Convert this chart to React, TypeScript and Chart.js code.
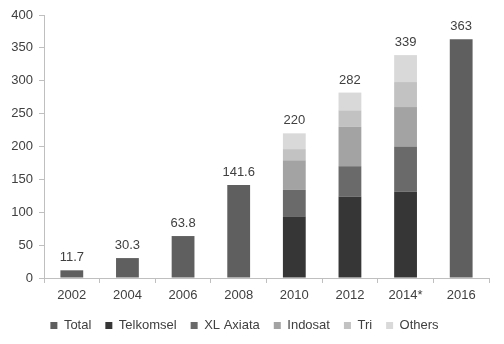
import React, { useEffect, useRef } from "react";
import { Chart, registerables } from "chart.js";

Chart.register(...registerables);

const categories = ["2002", "2004", "2006", "2008", "2010", "2012", "2014*", "2016"];
const totalValues = [11.7, 30.3, 63.8, 141.6, null, null, null, 363];
const telkomselValues = [null, null, null, null, 93, 124, 131, null];
const xlValues = [null, null, null, null, 41, 46, 69, null];
const indosatValues = [null, null, null, null, 45, 60, 60, null];
const triValues = [null, null, null, null, 17, 25, 38, null];
const othersValues = [null, null, null, null, 24, 27, 41, null];
const topLabels = ["11.7", "30.3", "63.8", "141.6", "220", "282", "339", "363"];
const yTicks = [0, 50, 100, 150, 200, 250, 300, 350, 400];

const FONT = "'Liberation Sans', Arial, sans-serif";
const TEXT = "#404040";
const AXIS = "#bfbfbf";

const topLabelPlugin = {
  id: "topLabels",
  afterDatasetsDraw(chart: any) {
    const ctx = chart.ctx;
    const yScale = chart.scales.y;
    ctx.save();
    ctx.font = `13px ${FONT}`;
    ctx.fillStyle = TEXT;
    ctx.textAlign = "center";
    ctx.textBaseline = "bottom";
    categories.forEach((_, i) => {
      let sum = 0;
      let x: number | null = null;
      chart.data.datasets.forEach((ds: any, di: number) => {
        const v = ds.data[i];
        if (v != null) {
          sum += v;
          const el = chart.getDatasetMeta(di).data[i];
          if (el) x = el.x;
        }
      });
      if (x != null) {
        const y = yScale.getPixelForValue(sum);
        ctx.fillText(topLabels[i], x, y - 6);
      }
    });
    ctx.restore();
  },
};

export default function App() {
  const ref = useRef<HTMLCanvasElement | null>(null);
  useEffect(() => {
    document.body.style.margin = "0";
    if (!ref.current) return;
    const mk = (label: string, data: any[], color: string) => ({
      label,
      data,
      backgroundColor: color,
      borderWidth: 0,
      barPercentage: 0.41,
      categoryPercentage: 1,
      skipNull: true,
    });
    const chart = new Chart(ref.current, {
      type: "bar",
      data: {
        labels: categories,
        datasets: [
          mk("Total", totalValues, "#5f5f5f"),
          mk("Telkomsel", telkomselValues, "#363636"),
          mk("XL Axiata", xlValues, "#6a6a6a"),
          mk("Indosat", indosatValues, "#a3a3a3"),
          mk("Tri", triValues, "#c2c2c2"),
          mk("Others", othersValues, "#d9d9d9"),
        ],
      },
      options: {
        responsive: false,
        animation: false,
        layout: { padding: { top: 15, right: 15, left: 0, bottom: 2 } },
        plugins: {
          tooltip: { enabled: false },
          legend: {
            position: "bottom",
            labels: {
              boxWidth: 7,
              boxHeight: 7,
              padding: 14,
              color: TEXT,
              font: { family: FONT, size: 13 },
            },
          },
        },
        scales: {
          x: {
            stacked: true,
            grid: {
              offset: true,
              drawOnChartArea: false,
              tickLength: 5,
              color: AXIS,
            },
            border: { color: AXIS },
            ticks: { color: TEXT, font: { family: FONT, size: 13 }, padding: 5 },
            afterFit(scale: any) {
              scale.height = 27;
            },
          },
          y: {
            stacked: true,
            min: 0,
            max: 400,
            afterBuildTicks(scale: any) {
              scale.ticks = yTicks.map((v) => ({ value: v }));
            },
            grid: { drawOnChartArea: false, tickLength: 5, color: AXIS },
            border: { color: AXIS },
            ticks: { color: TEXT, font: { family: FONT, size: 13 }, padding: 6 },
            afterFit(scale: any) {
              scale.width = 44;
            },
          },
        },
      },
      plugins: [topLabelPlugin],
    } as any);
    return () => chart.destroy();
  }, []);
  return <canvas ref={ref} width={504} height={344} style={{ display: "block" }} />;
}
